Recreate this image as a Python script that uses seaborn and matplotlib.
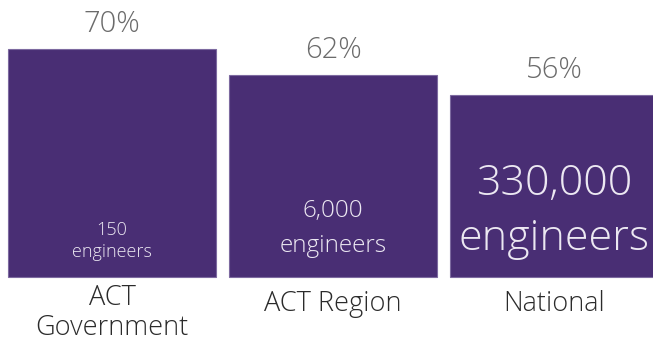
import matplotlib
matplotlib.use("Agg")
import matplotlib.pyplot as plt
import seaborn as sns
import pandas as pd

categories = ["ACT\nGovernment", "ACT Region", "National"]
percentages = [70, 62, 56]
counts = ["150", "6,000", "330,000"]
count_unit = "engineers"

sns.set_theme(style="white")
plt.rcParams["font.family"] = ["Open Sans", "DejaVu Sans"]

PX = 0.72  # points per pixel at dpi 100

fig = plt.figure(figsize=(6.53, 3.45), dpi=100)
ax = fig.add_axes([0, 0, 1, 1])

df = pd.DataFrame({"category": categories, "pct": percentages})
sns.barplot(data=df, x="category", y="pct", color="#492e74", saturation=1,
            width=0.941, edgecolor="#7d6aa0", linewidth=0.8, ax=ax)

ax.set_xlim(-0.507, 2.448)
ax.set_ylim(-20.88, 85.05)
ax.axis("off")

count_sizes = [13, 17.5, 31]
count_off = [42, 60, 82]
unit_off = [20, 25, 27]

for i, (cat, p, c) in enumerate(zip(categories, percentages, counts)):
    ax.annotate(f"{p}%", xy=(i, p), xytext=(0, 17 * PX), textcoords="offset points",
                ha="center", va="baseline", fontsize=21, color="#6b6b6b",
                fontweight="light")
    ax.annotate(c, xy=(i, 0), xytext=(0, count_off[i] * PX), textcoords="offset points",
                ha="center", va="baseline", fontsize=count_sizes[i], color="#ece8f2",
                fontweight="light")
    ax.annotate(count_unit, xy=(i, 0), xytext=(0, unit_off[i] * PX), textcoords="offset points",
                ha="center", va="baseline", fontsize=count_sizes[i], color="#ece8f2",
                fontweight="light")
    lines = cat.split("\n")
    base = -28 if len(lines) > 1 else -34
    for k, line in enumerate(lines):
        ax.annotate(line, xy=(i, 0), xytext=(0, (base - 30 * k) * PX), textcoords="offset points",
                    ha="center", va="baseline", fontsize=19.5, color="#2b2b2b",
                    fontweight="light")

fig.savefig("out.png", dpi=100)
